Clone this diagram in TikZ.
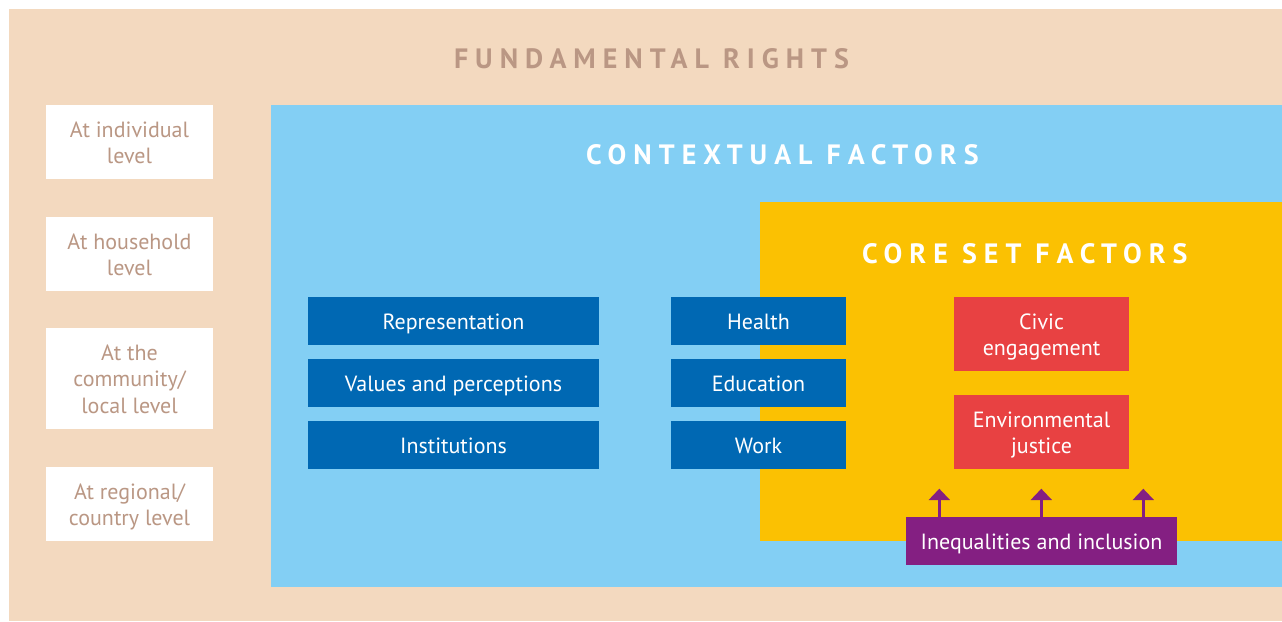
\documentclass[tikz,border=0pt]{standalone}
\usepackage{fontspec}
\setmainfont{PT Sans}
\newfontfamily\titlefont[LetterSpace=25]{PT Sans Bold}
\usetikzlibrary{arrows.meta}
\definecolor{beige}{HTML}{F3D9BF}
\definecolor{brn}{HTML}{BA9784}
\definecolor{ltblue}{HTML}{83CFF4}
\definecolor{coreyellow}{HTML}{FBC102}
\definecolor{dkblue}{HTML}{0068B3}
\definecolor{corered}{HTML}{E84142}
\definecolor{purp}{HTML}{841F82}
\tikzset{
  txt/.style={font=\fontsize{22}{26.6}\selectfont, align=center, text depth=0pt},
  one/.style={text height=16.6pt},
  two/.style={text height=43.2pt},
  three/.style={text height=69.8pt},
  lvl/.style={txt, fill=white, text=brn, minimum width=167pt, minimum height=74pt},
  ctx/.style={txt, fill=dkblue, text=white, minimum height=48pt},
  core/.style={txt, fill=corered, text=white, minimum width=175pt, minimum height=74pt},
  incl/.style={txt, fill=purp, text=white, minimum width=271pt, minimum height=48pt},
  ttl/.style={font=\fontsize{28}{30}\titlefont, anchor=base west},
  parrow/.style={draw=purp, line width=2.7pt, -{Triangle[width=20.7pt,length=11.3pt]}}
}
\begin{document}
\begin{tikzpicture}[x=1pt, y=-1pt, every node/.style={inner sep=0pt, outer sep=0pt}]
\useasboundingbox (0,0) rectangle (1282,621);
\fill[white] (0,0) rectangle (1282,621);
\fill[beige] (9,9) rectangle (1282,621);
\fill[ltblue] (271,105) rectangle (1282,586.7);
\fill[coreyellow] (759.5,201.7) rectangle (1282,540.7);

\node[ttl, text=brn] (fr) at (454,68.3) {FUNDAMENTAL RIGHTS};
\node[ttl, text=white] (cf) at (586,164.3) {CONTEXTUAL FACTORS};
\node[ttl, text=white] (cs) at (862,263) {CORE SET FACTORS};

\node[lvl, two] (ind) at (129.5,142) {At individual\\level};
\node[lvl, two] (hh) at (129.5,254) {At household\\level};
\node[lvl, three, minimum height=101pt] (com) at (129.5,378.5) {At the\\community/\\local level};
\node[lvl, two] (reg) at (129.5,504) {At regional/\\country level};

\node[ctx, one, minimum width=291pt] (rep) at (453.5,321) {Representation};
\node[ctx, one, minimum width=291pt] (val) at (453.5,383) {Values and perceptions};
\node[ctx, one, minimum width=291pt] (ins) at (453.5,445) {Institutions};
\node[ctx, one, minimum width=175pt] (hea) at (758.5,321) {Health};
\node[ctx, one, minimum width=175pt] (edu) at (758.5,383) {Education};
\node[ctx, one, minimum width=175pt] (wor) at (758.5,445) {Work};

\node[core, two] (civ) at (1041.5,334) {Civic\\engagement};
\node[core, two] (env) at (1041.5,432) {Environmental\\justice};

\node[incl, one] (inc) at (1041.5,541) {Inequalities and inclusion};

\coordinate (t1) at (939.3,488.7);
\coordinate (t2) at (1041.3,488.7);
\coordinate (t3) at (1143.3,488.7);
\draw[parrow] (inc.north -| t1) -- (t1);
\draw[parrow] (inc.north -| t2) -- (t2);
\draw[parrow] (inc.north -| t3) -- (t3);
\end{tikzpicture}
\end{document}
